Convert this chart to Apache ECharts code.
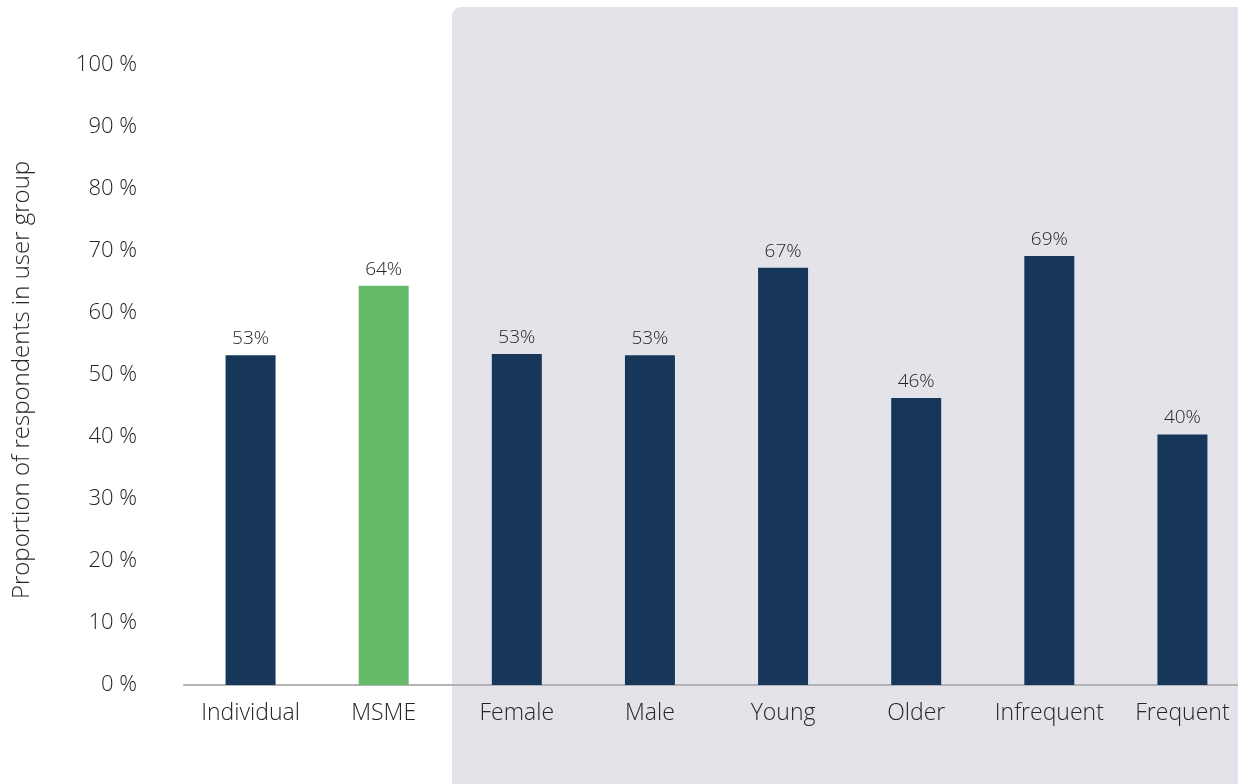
<!DOCTYPE html>
<html>
<head>
<meta charset="utf-8">
<script src="https://cdn.jsdelivr.net/npm/echarts@6/dist/echarts.min.js"></script>
<style>
  html, body { margin: 0; padding: 0; background: #ffffff; }
  #chart { width: 1238px; height: 784px; }
</style>
</head>
<body>
<div id="chart"></div>
<script>
// User groups and share of respondents (%)
const categories = ['Individual', 'MSME', 'Female', 'Male', 'Young', 'Older', 'Infrequent', 'Frequent'];
const values = [53.2, 64.4, 53.4, 53.2, 67.3, 46.3, 69.2, 40.4];
const highlighted = ['MSME'];
const yTicks = [0, 10, 20, 30, 40, 50, 60, 70, 80, 90, 100];

const navy = '#17375a';
const green = '#66bb6a';
const font = '"Open Sans", "Noto Sans", sans-serif';
const textColor = '#262626';
const weight = 300;

const chart = echarts.init(document.getElementById('chart'), null, { renderer: 'canvas' });

chart.setOption({
  animation: false,
  backgroundColor: '#ffffff',
  textStyle: { fontFamily: font },
  graphic: [{
    type: 'rect',
    z: -10,
    silent: true,
    shape: { x: 452, y: 7, width: 900, height: 900, r: 9 },
    style: { fill: '#e4e3ea' }
  }],
  grid: {
    left: 184, top: 65, width: 1065, height: 620,
    containLabel: false,
    outerBoundsMode: 'none'
  },
  xAxis: {
    type: 'category',
    data: categories,
    axisLine: { show: true, lineStyle: { color: '#b3b3b3', width: 2 } },
    axisTick: { show: false },
    axisLabel: {
      interval: 0, color: textColor, fontSize: 23, fontWeight: weight,
      fontFamily: font, margin: 17
    }
  },
  yAxis: {
    type: 'value',
    min: yTicks[0],
    max: yTicks[yTicks.length - 1],
    interval: 10,
    name: 'Proportion of respondents in user group',
    nameLocation: 'middle',
    nameGap: 150,
    nameRotate: 90,
    nameTextStyle: {
      color: textColor, fontSize: 24, fontWeight: weight, fontFamily: font,
      padding: [0, 10, 0, 0]
    },
    axisLine: { show: false },
    axisTick: { show: false },
    splitLine: { show: false },
    axisLabel: {
      color: textColor, fontSize: 22, fontWeight: weight, fontFamily: font, margin: 47,
      padding: [4, 0, 0, 0],
      formatter: v => v + ' %'
    }
  },
  series: [{
    type: 'bar',
    barWidth: 50,
    data: values.map((v, i) => ({
      value: v,
      itemStyle: { color: highlighted.includes(categories[i]) ? green : navy }
    })),
    label: {
      show: true,
      position: 'top',
      distance: 7,
      color: textColor,
      fontSize: 19,
      fontWeight: weight,
      fontFamily: font,
      formatter: p => Math.round(p.value) + '%'
    }
  }]
});
</script>
</body>
</html>
